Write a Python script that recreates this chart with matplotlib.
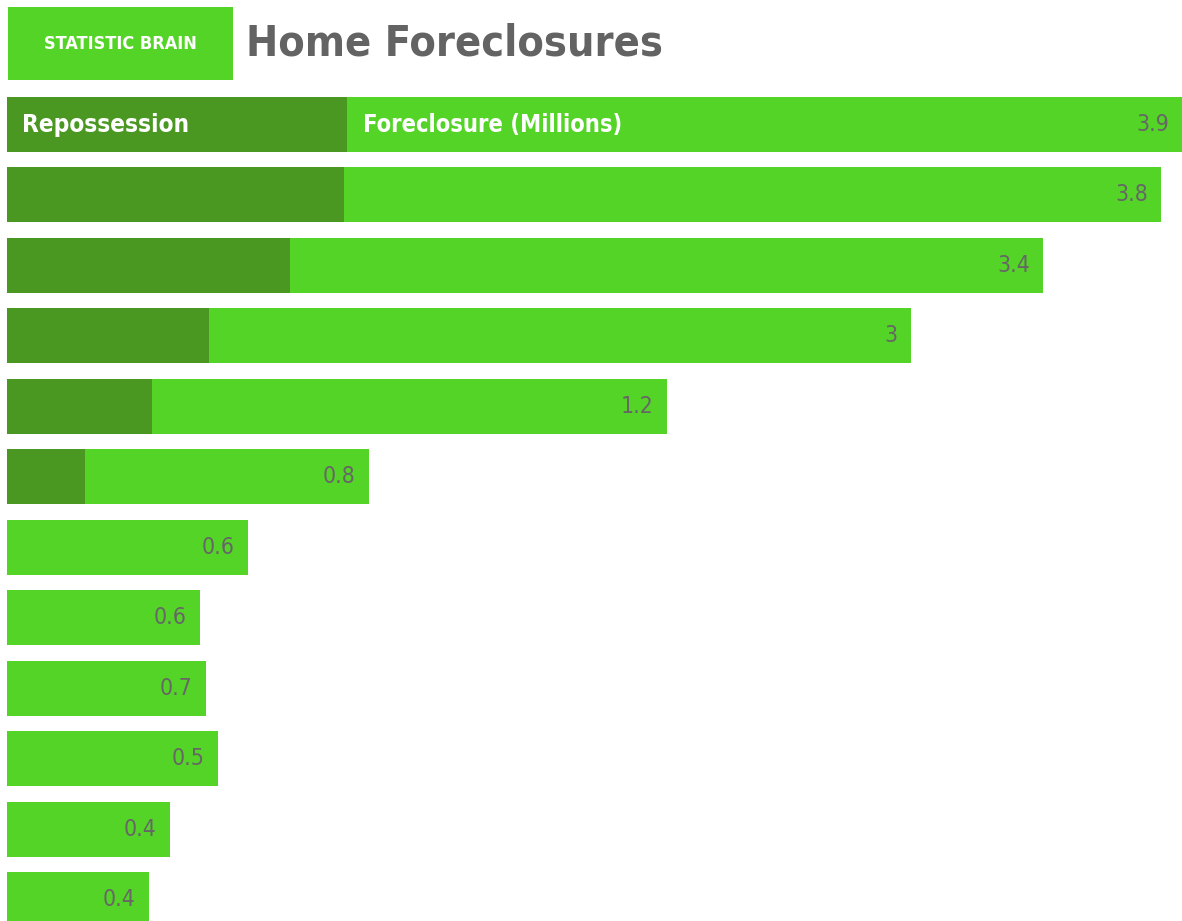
import matplotlib
matplotlib.use("Agg")
import matplotlib.pyplot as plt
from matplotlib.patches import Rectangle
import numpy as np

# bar lengths as drawn in the infographic (same scale, longest = 3.9)
foreclosure_len = [3.90, 3.83, 3.44, 3.00, 2.19, 1.20, 0.80, 0.64, 0.66, 0.70, 0.54, 0.47]
repossession_len = [1.13, 1.12, 0.94, 0.67, 0.48, 0.26, 0, 0, 0, 0, 0, 0]
# printed values (millions)
value_labels = ["3.9", "3.8", "3.4", "3", "1.2", "0.8", "0.6", "0.6", "0.7", "0.5", "0.4", "0.4"]

title = "Home Foreclosures"
brand = "STATISTIC BRAIN"
series_names = ["Repossession", "Foreclosure (Millions)"]

colors = ['#55d428', '#4a9822', '#666666']
#narrow font, only condensed one around is DejaVu
fnt = dict(family='DejaVu Sans', stretch='condensed')

W, H = 1182, 921
fig = plt.figure(figsize=(W/100., H/100.), dpi=100)
fig.patch.set_facecolor('white')

#axes covering whole height, rows spaced ~70 px, first row centred at y=124 px
pitch = 70.45
top_row = 124.5
ax = fig.add_axes([7./W, 0, 1175./W, 1])
ypos = np.arange(len(foreclosure_len))
ax.barh(ypos, foreclosure_len, height=55./pitch, color=colors[0], zorder=1)
ax.barh(ypos, repossession_len, height=55./pitch, color=colors[1], zorder=2)
ax.set_xlim(0, 3.9)
ax.set_ylim((H-top_row)/pitch, -top_row/pitch)
ax.axis('off')

for i in range(len(foreclosure_len)):
    ax.annotate(value_labels[i], (foreclosure_len[i], ypos[i]), xytext=(-9.4, 0),
                textcoords='offset points', ha='right', va='center',
                fontsize=16.5, color=colors[2], zorder=3, **fnt)

#series names inside the first bar
ax.annotate(series_names[0], (0, ypos[0]), xytext=(10.8, 0), textcoords='offset points',
            ha='left', va='center', fontsize=17.5, fontweight='bold', color='white',
            zorder=3, **fnt)
ax.annotate(series_names[1], (repossession_len[0], ypos[0]), xytext=(11.5, 0),
            textcoords='offset points', ha='left', va='center', fontsize=17,
            fontweight='bold', color='white', zorder=3, **fnt)

#header: green brand box + title
fig.add_artist(Rectangle((8./W, 1-80./H), 225./W, 73./H, transform=fig.transFigure,
                         facecolor=colors[0], edgecolor='none'))
fig.text(120./W, 1-44./H, brand, ha='center', va='center', fontsize=13,
         fontweight='bold', color='white', **fnt)
fig.text(246./W, 1-43./H, title, ha='left', va='center', fontsize=31,
         fontweight='bold', color='#636363', **fnt)

fig.savefig("out.png", dpi=100, facecolor='white')
plt.close(fig)
